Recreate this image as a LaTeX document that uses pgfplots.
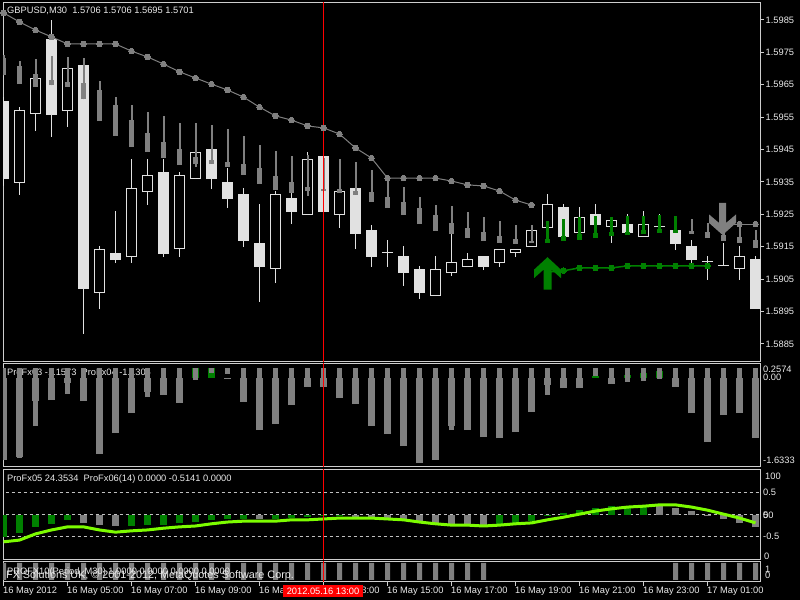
\documentclass[border=0pt]{standalone}
\usepackage{fontspec}
\setmainfont{Liberation Sans}
\usepackage{pgfplots}
\usepackage{pgfplotstable}
\pgfplotsset{compat=1.18}

\definecolor{cand}{RGB}{225,225,225}
\definecolor{mtgrey}{RGB}{128,128,128}
\definecolor{mtgreen}{RGB}{0,128,0}
\definecolor{limeline}{RGB}{124,252,0}
\definecolor{frame}{RGB}{205,205,205}
\definecolor{dashgrey}{RGB}{192,192,192}
\definecolor{txt}{RGB}{235,235,235}
\newcommand{\mt}{\fontsize{9.3bp}{10bp}\selectfont}

\pgfdeclareplotmark{uparrow}{%
 \pgfpathmoveto{\pgfpoint{0bp}{16.5bp}}%
 \pgfpathlineto{\pgfpoint{13.5bp}{4bp}}%
 \pgfpathlineto{\pgfpoint{13.5bp}{-4.5bp}}%
 \pgfpathlineto{\pgfpoint{4bp}{4bp}}%
 \pgfpathlineto{\pgfpoint{4bp}{-16bp}}%
 \pgfpathlineto{\pgfpoint{-4bp}{-16bp}}%
 \pgfpathlineto{\pgfpoint{-4bp}{4bp}}%
 \pgfpathlineto{\pgfpoint{-13.5bp}{-4.5bp}}%
 \pgfpathlineto{\pgfpoint{-13.5bp}{4bp}}%
 \pgfpathclose\pgfusepathqfill}
\pgfdeclareplotmark{downarrow}{%
 \pgfpathmoveto{\pgfpoint{0bp}{-16bp}}%
 \pgfpathlineto{\pgfpoint{13.5bp}{-4bp}}%
 \pgfpathlineto{\pgfpoint{13.5bp}{4.5bp}}%
 \pgfpathlineto{\pgfpoint{3.5bp}{-4bp}}%
 \pgfpathlineto{\pgfpoint{3.5bp}{16bp}}%
 \pgfpathlineto{\pgfpoint{-3.5bp}{16bp}}%
 \pgfpathlineto{\pgfpoint{-3.5bp}{-4bp}}%
 \pgfpathlineto{\pgfpoint{-13.5bp}{4.5bp}}%
 \pgfpathlineto{\pgfpoint{-13.5bp}{-4bp}}%
 \pgfpathclose\pgfusepathqfill}

% main price candles: open high low close
\pgfplotstableread{
k o h l c
0 1.59600 1.59612 1.59338 1.59359
1 1.59347 1.59581 1.59310 1.59572
2 1.59560 1.59730 1.59507 1.59671
3 1.59791 1.59850 1.59489 1.59557
4 1.59569 1.59736 1.59520 1.59702
5 1.59711 1.59733 1.58881 1.59020
6 1.59007 1.59152 1.58958 1.59143
7 1.59131 1.59260 1.59100 1.59109
8 1.59118 1.59421 1.59100 1.59332
9 1.59319 1.59421 1.59279 1.59372
10 1.59381 1.59421 1.59118 1.59128
11 1.59143 1.59381 1.59118 1.59372
12 1.59359 1.59480 1.59359 1.59443
13 1.59452 1.59464 1.59328 1.59359
14 1.59350 1.59393 1.59270 1.59298
15 1.59313 1.59332 1.59149 1.59168
16 1.59162 1.59282 1.58980 1.59088
17 1.59081 1.59322 1.59038 1.59313
18 1.59301 1.59316 1.59220 1.59257
19 1.59248 1.59443 1.59248 1.59421
20 1.59430 1.59430 1.59257 1.59257
21 1.59248 1.59341 1.59208 1.59322
22 1.59332 1.59341 1.59143 1.59190
23 1.59202 1.59217 1.59088 1.59119
24 1.59131 1.59171 1.59088 1.59131
25 1.59122 1.59152 1.59029 1.59069
26 1.59081 1.59091 1.58989 1.59007
27 1.58998 1.59122 1.58998 1.59081
28 1.59069 1.59190 1.59060 1.59103
29 1.59088 1.59131 1.59088 1.59112
30 1.59122 1.59122 1.59078 1.59088
31 1.59100 1.59143 1.59088 1.59143
32 1.59131 1.59143 1.59118 1.59143
33 1.59149 1.59217 1.59149 1.59202
34 1.59208 1.59313 1.59208 1.59282
35 1.59273 1.59282 1.59180 1.59180
36 1.59193 1.59273 1.59193 1.59242
37 1.59251 1.59282 1.59217 1.59217
38 1.59211 1.59233 1.59162 1.59233
39 1.59220 1.59251 1.59193 1.59193
40 1.59180 1.59260 1.59180 1.59220
41 1.59211 1.59251 1.59193 1.59211
42 1.59202 1.59202 1.59140 1.59159
43 1.59152 1.59171 1.59100 1.59109
44 1.59103 1.59122 1.59048 1.59103
45 1.59091 1.59162 1.59091 1.59091
46 1.59081 1.59152 1.59048 1.59122
47 1.59112 1.59122 1.58958 1.58958
}\maindata

% overlay candles: wick top, body top, body bottom, wick bottom
\pgfplotstableread{
k wt bt bb wb
0 1.59742 1.59733 1.59680 1.59680
1 1.59723 1.59708 1.59652 1.59652
2 1.59730 1.59683 1.59643 1.59643
3 1.59739 1.59665 1.59649 1.59649
4 1.59736 1.59659 1.59643 1.59643
5 1.59733 1.59656 1.59606 1.59606
6 1.59662 1.59634 1.59538 1.59538
7 1.59612 1.59588 1.59492 1.59492
8 1.59588 1.59541 1.59458 1.59458
9 1.59566 1.59501 1.59443 1.59443
10 1.59554 1.59473 1.59424 1.59424
11 1.59532 1.59452 1.59402 1.59402
12 1.59532 1.59427 1.59406 1.59396
13 1.59526 1.59418 1.59406 1.59406
14 1.59514 1.59412 1.59396 1.59396
15 1.59492 1.59406 1.59372 1.59372
16 1.59464 1.59393 1.59344 1.59344
17 1.59446 1.59369 1.59325 1.59325
18 1.59430 1.59350 1.59316 1.59316
19 1.59433 1.59335 1.59322 1.59307
20 1.59424 1.59328 1.59322 1.59322
21 1.59421 1.59328 1.59316 1.59316
22 1.59412 1.59322 1.59310 1.59310
23 1.59387 1.59319 1.59288 1.59288
24 1.59365 1.59304 1.59270 1.59270
25 1.59335 1.59288 1.59248 1.59248
26 1.59304 1.59270 1.59220 1.59220
27 1.59279 1.59248 1.59199 1.59199
28 1.59276 1.59224 1.59190 1.59190
29 1.59257 1.59208 1.59177 1.59177
30 1.59242 1.59196 1.59168 1.59168
31 1.59230 1.59183 1.59162 1.59162
32 1.59217 1.59174 1.59159 1.59159
33 1.59217 1.59168 1.59162 1.59162
34 1.59230 1.59174 1.59162 1.59162
35 1.59236 1.59183 1.59168 1.59168
36 1.59242 1.59190 1.59171 1.59171
37 1.59245 1.59193 1.59177 1.59177
38 1.59242 1.59196 1.59183 1.59183
39 1.59245 1.59196 1.59187 1.59187
40 1.59245 1.59202 1.59190 1.59190
41 1.59248 1.59205 1.59193 1.59193
42 1.59245 1.59202 1.59193 1.59193
43 1.59236 1.59199 1.59190 1.59190
44 1.59224 1.59196 1.59177 1.59177
45 1.59217 1.59187 1.59168 1.59168
46 1.59211 1.59180 1.59162 1.59162
47 1.59202 1.59171 1.59146 1.59146
}\ovdata

% grey moving line (two pieces) and green line
\pgfplotstableread{
k v
0 1.59872
1 1.59844
2 1.59819
3 1.59798
4 1.59776
5 1.59776
6 1.59776
7 1.59776
8 1.59754
9 1.59736
10 1.59714
11 1.59690
12 1.59671
13 1.59652
14 1.59634
15 1.59612
16 1.59581
17 1.59554
18 1.59541
19 1.59523
20 1.59517
21 1.59498
22 1.59455
23 1.59424
24 1.59362
25 1.59362
26 1.59362
27 1.59362
28 1.59353
29 1.59341
30 1.59338
31 1.59322
32 1.59294
33 1.59279
}\magreyA
\pgfplotstableread{
k v
45 1.59220
46 1.59220
47 1.59220
}\magreyB
\pgfplotstableread{
k v
34 1.59072
35 1.59076
36 1.59085
37 1.59085
38 1.59085
39 1.59091
40 1.59091
41 1.59091
42 1.59091
43 1.59091
44 1.59091
}\magreen
% signal arrows: bar index, price at arrow centre
\pgfplotstableread{
k v
34 1.59067
}\arrowup
\pgfplotstableread{
k v
44.94 1.59236
}\arrowdown

% ProFx03/04: wide bar value w, narrow bar bottom n (narrow top at 0.175)
\pgfplotstableread{
k w n
0 -1.506 -1.45
1 -1.45 -1.47
2 -0.428 -0.885
3 -0.41 0
4 -0.099 -0.30
5 -0.428 0
6 -1.397 0
7 -1.013 0
8 -0.647 0
9 -0.263 -0.355
10 -0.318 0
11 -0.464 0
12 0.175 -0.044
13 0.175 0.09
14 -0.02 0.066
15 -0.446 0
16 -0.958 0
17 -0.848 0
18 -0.501 0
19 -0.172 0
20 -0.172 0
21 -0.373 0
22 -0.483 0
23 -0.885 0
24 -1.031 0
25 -1.250 0
26 -1.561 0
27 -1.506 0
28 -0.885 -0.958
29 -0.958 0
30 -1.086 0
31 -1.104 0
32 -0.995 0
33 -0.629 0
34 -0.135 -0.318
35 -0.190 0
36 -0.190 0
37 0.035 0.035
38 -0.117 0
39 0.05 -0.08
40 0.08 -0.062
41 0.12 -0.02
42 -0.172 0
43 -0.647 0
44 -1.177 0
45 -0.684 0
46 -0.647 0
47 -1.104 0
}\ptwo

% ProFx05/06: histogram h, colour flag g (1 green), line m
\pgfplotstableread{
k h g m
0 -0.50 1 -0.61
1 -0.41 1 -0.57
2 -0.27 1 -0.43
3 -0.20 1 -0.34
4 -0.11 1 -0.27
5 -0.18 0 -0.27
6 -0.23 0 -0.34
7 -0.25 0 -0.39
8 -0.25 1 -0.36
9 -0.23 1 -0.34
10 -0.23 1 -0.30
11 -0.18 1 -0.27
12 -0.16 1 -0.25
13 -0.11 1 -0.20
14 -0.09 1 -0.16
15 -0.09 1 -0.14
16 -0.09 0 -0.14
17 -0.09 1 -0.14
18 -0.07 1 -0.11
19 -0.05 1 -0.11
20 -0.02 1 -0.09
21 -0.01 1 -0.07
22 -0.05 0 -0.07
23 -0.06 0 -0.07
24 -0.09 0 -0.09
25 -0.11 0 -0.11
26 -0.16 0 -0.16
27 -0.20 0 -0.20
28 -0.22 0 -0.23
29 -0.23 0 -0.23
30 -0.23 0 -0.25
31 -0.23 1 -0.23
32 -0.20 1 -0.20
33 -0.14 1 -0.18
34 -0.02 1 -0.11
35 0.05 1 -0.05
36 0.11 1 0.02
37 0.16 1 0.09
38 0.20 1 0.14
39 0.20 1 0.18
40 0.20 1 0.20
41 0.20 0 0.23
42 0.16 0 0.23
43 0.08 0 0.18
44 0.01 0 0.11
45 -0.09 0 0.02
46 -0.18 0 -0.07
47 -0.28 0 -0.18
}\pthree

\pgfplotsset{
 mtpanel/.style={scale only axis, width=757.5bp, xmin=-0.03125, xmax=47.3125,
   anchor=north west, axis line style={draw=frame, line width=1bp},
   xtick=\empty, ytick=\empty, clip=true},
 bar/.style n args={2}{only marks, mark=none, mark size=0pt,
   mark options={draw=none, fill=none}, forget plot,
   error bars/.cd, y dir=plus, y explicit, error mark=none,
   error bar style={draw=#1, line width=#2, solid}},
}

\begin{document}
\begin{tikzpicture}[x=1bp,y=1bp]
\useasboundingbox (0,0) rectangle (800,600);
\fill[black] (0,0) rectangle (800,600);

% ---------------- main price panel (plotted in pips above 1.5880)
\begin{axis}[mtpanel, at={(3bp,597bp)}, height=358.5bp,
  ymin=-0.40, ymax=110.25,
  ytick={5,15,25,35,45,55,65,75,85,95,105},
  yticklabels={1.5885,1.5895,1.5905,1.5915,1.5925,1.5935,1.5945,1.5955,1.5965,1.5975,1.5985},
  ytick pos=right, tick align=outside, major tick length=3bp,
  tick style={draw=frame, line width=1bp},
  yticklabel style={text=txt, font=\mt, anchor=west, inner sep=0pt, xshift=2bp}]
 % wicks
 \addplot[bar={cand}{1bp}] table[x=k, y expr={(\thisrow{l}-1.588)*10000},
   y error expr={(\thisrow{h}-\thisrow{l})*10000}] {\maindata};
 % bodies
 \addplot[bar={cand}{11bp}] table[x=k, y expr={(min(\thisrow{o},\thisrow{c})-1.588)*10000},
   y error expr={max(abs(\thisrow{c}-\thisrow{o})*10000,0.31)}] {\maindata};
 % hollow (bullish) interiors
 \addplot[restrict expr to domain={\thisrow{c}-\thisrow{o}}{0.00005:1}, bar={black}{9bp}]
   table[x=k, y expr={(\thisrow{o}-1.588)*10000+0.31}, y error expr={(\thisrow{c}-\thisrow{o})*10000-0.62}] {\maindata};
 % grey overlay candles
 \addplot[restrict expr to domain={abs(\thisrow{k}-38)}{4.5:100}, bar={mtgrey}{2bp}]
   table[x=k, y expr={(\thisrow{wb}-1.588)*10000}, y error expr={(\thisrow{wt}-\thisrow{wb})*10000}] {\ovdata};
 \addplot[restrict expr to domain={abs(\thisrow{k}-38)}{4.5:100}, bar={mtgrey}{5bp}]
   table[x=k, y expr={(\thisrow{bb}-1.588)*10000}, y error expr={(\thisrow{bt}-\thisrow{bb})*10000}] {\ovdata};
 % green overlay candles
 \addplot[restrict expr to domain={abs(\thisrow{k}-38)}{0:4.5}, bar={mtgreen}{2.5bp}]
   table[x=k, y expr={(\thisrow{wb}-1.588)*10000}, y error expr={(\thisrow{wt}-\thisrow{wb})*10000}] {\ovdata};
 \addplot[restrict expr to domain={abs(\thisrow{k}-38)}{0:4.5}, bar={mtgreen}{5bp}]
   table[x=k, y expr={(\thisrow{bb}-1.588)*10000}, y error expr={(\thisrow{bt}-\thisrow{bb})*10000}] {\ovdata};
 % grey dotted line
 \addplot[mtgrey, line width=1bp, mark=*, mark size=2.8bp, mark options={draw=mtgrey, fill=mtgrey, line width=0bp}]
   table[x=k, y expr={(\thisrow{v}-1.588)*10000}] {\magreyA};
 \addplot[mtgrey, line width=1bp, mark=*, mark size=2.8bp, mark options={draw=mtgrey, fill=mtgrey, line width=0bp}]
   table[x=k, y expr={(\thisrow{v}-1.588)*10000}] {\magreyB};
 % green dotted line
 \addplot[mtgreen, line width=1.5bp, mark=*, mark size=2.8bp, mark options={draw=mtgreen, fill=mtgreen, line width=0bp}]
   table[x=k, y expr={(\thisrow{v}-1.588)*10000}] {\magreen};
 % crosshair
 \addplot[red, line width=1bp] coordinates {(20,-10) (20,200)};
 % signal arrows
 \addplot[only marks, mark=uparrow, color=mtgreen, mark options={fill=mtgreen, draw=none}]
   table[x=k, y expr={(\thisrow{v}-1.588)*10000}] {\arrowup};
 \addplot[only marks, mark=downarrow, color=mtgrey, mark options={fill=mtgrey, draw=none}]
   table[x=k, y expr={(\thisrow{v}-1.588)*10000}] {\arrowdown};
\end{axis}

% ---------------- ProFx03 / ProFx04 panel
\node[anchor=base west, inner sep=0pt, text=txt, font=\mt] at (7,224.3) {ProFx03 -1.1573\ \ ProFx04 -1.1306};
\begin{axis}[mtpanel, at={(3bp,236.5bp)}, height=103.5bp, ymin=-1.6333, ymax=0.2574]
 \addplot[restrict expr to domain={\thisrow{w}}{-10:0}, bar={mtgrey}{7bp}]
   table[x=k, y=w, y error expr={-\thisrow{w}}] {\ptwo};
 \addplot[restrict expr to domain={\thisrow{w}}{0.0001:10}, bar={mtgreen}{7bp}]
   table[x=k, y expr=0, y error expr={\thisrow{w}}] {\ptwo};
 \addplot[bar={mtgrey}{5bp}]
   table[x=k, y=n, y error expr={0.175-\thisrow{n}}] {\ptwo};
 \addplot[red, line width=1bp] coordinates {(20,-2) (20,1)};
\end{axis}

% ---------------- ProFx05 / ProFx06 panel
\begin{axis}[mtpanel, at={(3bp,130bp)}, height=90bp, ymin=-1.0227, ymax=1.0227]
 \addplot[dashgrey, line width=1bp, dash pattern=on 3bp off 3bp, forget plot] coordinates {(-1,0.5) (48,0.5)};
 \addplot[dashgrey, line width=1bp, dash pattern=on 3bp off 3bp, forget plot] coordinates {(-1,0) (48,0)};
 \addplot[dashgrey, line width=1bp, dash pattern=on 3bp off 3bp, forget plot] coordinates {(-1,-0.5) (48,-0.5)};
 \addplot[restrict expr to domain={\thisrow{g}}{-0.5:0.5}, bar={mtgrey}{7bp}]
   table[x=k, y expr={min(0,\thisrow{h})}, y error expr={abs(\thisrow{h})}] {\pthree};
 \addplot[restrict expr to domain={\thisrow{g}}{0.5:1.5}, bar={mtgreen}{7bp}]
   table[x=k, y expr={min(0,\thisrow{h})}, y error expr={abs(\thisrow{h})}] {\pthree};
 \addplot[limeline, line width=3bp] table[x=k, y=m] {\pthree};
 \addplot[red, line width=1bp] coordinates {(20,-2) (20,2)};
\end{axis}
\node[anchor=base west, inner sep=0pt, text=txt, font=\mt] at (7,118) {ProFx05 24.3534\ \ ProFx06(14) 0.0000 -0.5141 0.0000};

% ---------------- PROFX10 panel
\begin{axis}[mtpanel, at={(3bp,38.3bp)}, height=20.3bp, ymin=-0.1176, ymax=1.076,
  xtick={0,4,8,12,16,20,24,28,32,36,40,44}, xticklabels={}, xtick pos=bottom,
  tick align=outside, major tick length=4bp, tick style={draw=frame, line width=1bp}]
 \addplot[ybar, bar width=5bp, fill=mtgrey, draw=none, forget plot] coordinates {
  (0,1) (1,1) (2,1) (3,1) (4,1) (5,1) (6,1) (7,1) (8,1) (9,1) (10,1) (11,1)
  (12,1) (13,1) (14,1) (15,1) (16,1) (17,1) (18,1) (19,1) (20,1) (21,1) (22,1)
  (23,1) (24,1) (25,1) (26,1) (27,1) (28,1) (29,1) (30,1)
  (42,1) (43,1) (44,1) (45,1) (46,1) (47,1)};
 \addplot[red, line width=1bp] coordinates {(20,-1) (20,2)};
\end{axis}
\node[anchor=base west, inner sep=0pt, text=txt, font=\mt] at (7,25) {PROFX10(Period\_M30) 1.0000 0.0000 0.0000 0.0000};
\node[anchor=base west, inner sep=0pt, text=txt, font=\fontsize{10.8bp}{11bp}\selectfont] at (6,21) {FX Solutions UK, \textcopyright{} 2001-2012, MetaQuotes Software Corp.};

% ---------------- texts
\node[anchor=base west, inner sep=0pt, text=txt, font=\mt] at (7,586) {GBPUSD,M30\ \ 1.5706 1.5706 1.5695 1.5701};
\begin{scope}[every node/.style={anchor=west, inner sep=0pt, text=txt, font=\mt}]
 \node at (763,231) {0.2574};
 \node at (763,223) {0.00};
 \node at (763,140) {-1.6333};
 \node at (765,123.3) {100};
 \node at (763,107.3) {0.5};
 \node at (763,85) {50};
 \node at (763,85) {0};
 \node at (763,63.3) {-0.5};
 \node at (764,44) {0};
 \node at (765,30.5) {1};
 \node at (765,25) {0};
\end{scope}
\begin{scope}[every node/.style={anchor=base west, inner sep=0pt, text=txt, font=\mt}]
 \node at (3,6.3) {16 May 2012};
 \node at (67,6.3) {16 May 05:00};
 \node at (131,6.3) {16 May 07:00};
 \node at (195,6.3) {16 May 09:00};
 \node at (259,6.3) {16 May 11:00};
 \node at (323,6.3) {16 May 13:00};
 \node at (387,6.3) {16 May 15:00};
 \node at (451,6.3) {16 May 17:00};
 \node at (515,6.3) {16 May 19:00};
 \node at (579,6.3) {16 May 21:00};
 \node at (643,6.3) {16 May 23:00};
 \node at (707,6.3) {17 May 01:00};
\end{scope}
\node[fill=red, text=white, font=\mt, anchor=north, inner xsep=4bp, inner ysep=0pt,
  minimum height=11.5bp] at (323,15) {2012.05.16 13:00};
\end{tikzpicture}
\end{document}
